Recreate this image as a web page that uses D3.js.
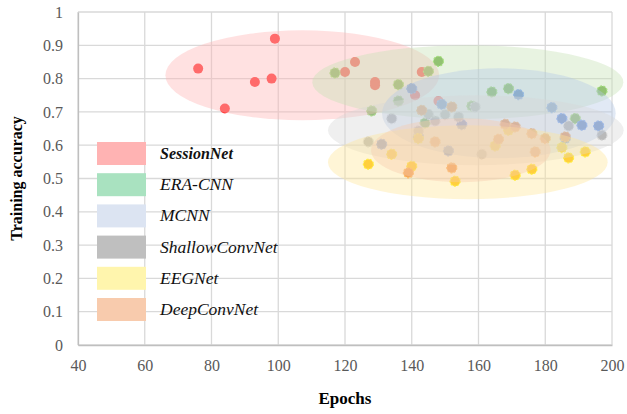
<!DOCTYPE html>
<html>
<head>
<meta charset="utf-8">
<script src="https://cdn.jsdelivr.net/npm/d3@7"></script>
<style>
  body { margin: 0; background: #fff; }
  text { font-family: "Liberation Serif", "Times New Roman", serif; }
</style>
</head>
<body>
<div id="viz"></div>
<script>
// series names and colours
const names = ['SessionNet', 'ERA-CNN', 'MCNN', 'ShallowConvNet', 'EEGNet', 'DeepConvNet'];
const dotColors = ['#FF3B3B', '#70AD47', '#4472C4', '#A5A5A5', '#FFC000', '#ED7D31'];
const ellColors = ['#FFB3B3', '#C5E0B4', '#B4C7E7', '#D6D6D6', '#FFE699', '#F8CBAD'];
const swatchColors = ['#FFB3B3', '#A9E2C0', '#DCE4F2', '#BFBFBF', '#FFF5AD', '#F8CBAD'];

// epochs / accuracy for each model
const sessionEpochs = [76, 84, 93, 98, 99, 120, 123, 129, 129, 141, 143, 148];
const sessionAcc = [0.83, 0.71, 0.79, 0.8, 0.92, 0.82, 0.85, 0.79, 0.78, 0.75, 0.82, 0.733];

const eraEpochs = [117, 128, 136, 136, 144, 145, 148, 158, 164, 169, 189, 197];
const eraAcc = [0.817, 0.703, 0.782, 0.733, 0.667, 0.822, 0.852, 0.718, 0.76, 0.77, 0.68, 0.763];

const mcnnEpochs = [131, 140, 142, 149, 151, 155, 172, 182, 185, 186, 191, 196];
const mcnnAcc = [0.603, 0.77, 0.625, 0.723, 0.583, 0.662, 0.752, 0.713, 0.68, 0.62, 0.66, 0.658];

const shallowEpochs = [127, 134, 142, 145, 147, 150, 154, 159, 161, 187, 197];
const shallowAcc = [0.61, 0.68, 0.643, 0.693, 0.673, 0.692, 0.685, 0.715, 0.573, 0.658, 0.63];

const eegEpochs = [127, 134, 140, 142, 153, 165, 169, 171, 176, 185, 187, 192];
const eegAcc = [0.543, 0.573, 0.537, 0.62, 0.492, 0.598, 0.645, 0.51, 0.528, 0.593, 0.562, 0.58];

const deepEpochs = [139, 143, 147, 152, 152, 166, 168, 171, 176, 177, 180, 186];
const deepAcc = [0.517, 0.705, 0.61, 0.715, 0.532, 0.618, 0.663, 0.655, 0.635, 0.58, 0.62, 0.625];

// spread ellipses: centre epoch, centre accuracy, radius in epochs, radius in accuracy
const ellCx = [107.2, 156.8, 166.1, 159.2, 156.8, 154.7];
const ellCy = [0.81, 0.789, 0.696, 0.645, 0.549, 0.585];
const ellRx = [41, 46.6, 35, 44.3, 41.9, 26.9];
const ellRy = [0.135, 0.111, 0.135, 0.105, 0.111, 0.096];

const xTicks = [40, 60, 80, 100, 120, 140, 160, 180, 200];
const yTicks = [0, 0.1, 0.2, 0.3, 0.4, 0.5, 0.6, 0.7, 0.8, 0.9, 1];

const allEpochs = [sessionEpochs, eraEpochs, mcnnEpochs, shallowEpochs, eegEpochs, deepEpochs];
const allAcc = [sessionAcc, eraAcc, mcnnAcc, shallowAcc, eegAcc, deepAcc];

const W = 627, H = 414;
const mLeft = 78, mRight = 612, mTop = 12, mBottom = 345;

let x = d3.scaleLinear().domain([40, 200]).range([mLeft, mRight]);
let y = d3.scaleLinear().domain([0, 1]).range([mBottom, mTop]);

let svg = d3.select('#viz').append('svg').attr('width', W).attr('height', H);

// grid
svg.append('g')
  .selectAll('line')
  .data(xTicks)
  .enter()
  .append('line')
  .attr('x1', d => x(d)).attr('x2', d => x(d))
  .attr('y1', mTop).attr('y2', mBottom)
  .attr('stroke', '#D9D9D9').attr('stroke-width', 1.3);

svg.append('g')
  .selectAll('line')
  .data(yTicks)
  .enter()
  .append('line')
  .attr('x1', mLeft).attr('x2', mRight)
  .attr('y1', d => y(d)).attr('y2', d => y(d))
  .attr('stroke', '#D9D9D9').attr('stroke-width', 1.3);

// axes
let xAxis = svg.append('g')
  .attr('transform', `translate(0,${mBottom})`)
  .call(d3.axisBottom(x).tickValues(xTicks).tickSize(0).tickPadding(15).tickFormat(d3.format('d')));
let yAxis = svg.append('g')
  .attr('transform', `translate(${mLeft},0)`)
  .call(d3.axisLeft(y).tickValues(yTicks).tickSize(0).tickPadding(15).tickFormat(d => d));

[xAxis, yAxis].forEach(a => {
  a.select('.domain').attr('stroke', '#BFBFBF').attr('stroke-width', 1.3);
  a.selectAll('text')
    .attr('fill', '#595959')
    .style('font-size', '16px')
    .style('font-family', '"Liberation Serif", serif');
});

// points (drawn under the ellipses)
let points = [];
allEpochs.forEach((eps, s) => {
  eps.forEach((e, i) => points.push({ s: s, e: e, a: allAcc[s][i] }));
});

svg.append('g')
  .selectAll('circle')
  .data(points)
  .enter()
  .append('circle')
  .attr('cx', d => x(d.e))
  .attr('cy', d => y(d.a))
  .attr('r', 5)
  .attr('fill', d => dotColors[d.s])
  .attr('stroke', d => d.s === 0 ? 'none' : d3.color(dotColors[d.s]).brighter(0.7))
  .attr('stroke-width', 1.2)
  .attr('stroke-dasharray', '2,1.5');

// ellipses, pastel and see-through, over the points
svg.append('g')
  .selectAll('ellipse')
  .data(d3.range(names.length))
  .enter()
  .append('ellipse')
  .attr('cx', i => x(ellCx[i]))
  .attr('cy', i => y(ellCy[i]))
  .attr('rx', i => x(ellCx[i] + ellRx[i]) - x(ellCx[i]))
  .attr('ry', i => y(ellCy[i]) - y(ellCy[i] + ellRy[i]))
  .attr('fill', i => ellColors[i])
  .attr('fill-opacity', 0.4);

// legend
let legend = svg.append('g')
  .selectAll('g')
  .data(names)
  .enter()
  .append('g')
  .attr('transform', (d, i) => `translate(97,${142 + i * 31.2})`);

legend.append('rect')
  .attr('width', 49).attr('height', 23)
  .attr('fill', (d, i) => swatchColors[i]);

legend.append('text')
  .attr('x', 63).attr('y', 17)
  .style('font-size', (d, i) => i === 0 ? '16px' : '17.5px')
  .style('font-style', 'italic')
  .style('font-weight', (d, i) => i === 0 ? 'bold' : 'normal')
  .attr('fill', '#111')
  .text(d => d);

// axis titles
svg.append('text')
  .attr('x', (mLeft + mRight) / 2).attr('y', 404)
  .attr('text-anchor', 'middle')
  .style('font-size', '17px').style('font-weight', 'bold')
  .text('Epochs');

svg.append('text')
  .attr('transform', `translate(22,${(mTop + mBottom) / 2}) rotate(-90)`)
  .attr('text-anchor', 'middle')
  .style('font-size', '16px').style('font-weight', 'bold')
  .text('Training accuracy');
</script>
</body>
</html>
